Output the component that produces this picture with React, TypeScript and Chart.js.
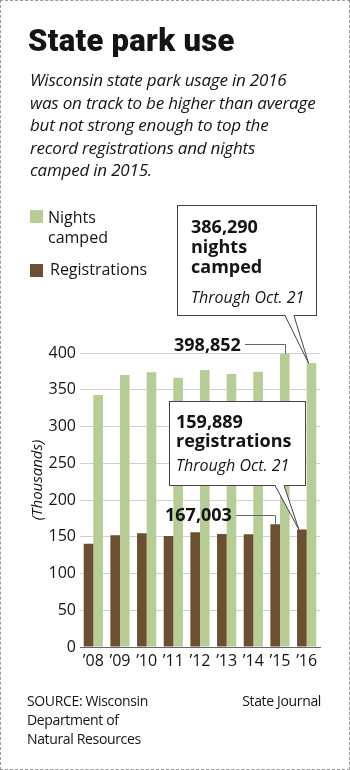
import React, { useEffect, useRef } from "react";
import { Chart, registerables } from "chart.js";
Chart.register(...registerables);

const years = ["\u201908", "\u201909", "\u201910", "\u201911", "\u201912", "\u201913", "\u201914", "\u201915", "\u201916"];
const registrations = [140.5, 152, 154.6, 151, 156, 153.7, 153.5, 167.003, 159.889];
const nightsCamped = [343, 370, 373.7, 366.4, 376.9, 371.4, 374.6, 398.852, 386.29];
const yMin = 0;
const yMax = 400;
const yStep = 50;

const GREEN = "#b6cd95";
const BROWN = "#6b4f30";
const INK = "#141414";

const annotationPlugin = {
  id: "annots",
  afterDatasetsDraw(chart: any) {
    const ctx = chart.ctx;
    const reg = chart.getDatasetMeta(0).data;
    const ngt = chart.getDatasetMeta(1).data;
    ctx.save();
    ctx.strokeStyle = "#666";
    ctx.lineWidth = 1;
    const b15n = ngt[7];
    ctx.beginPath();
    ctx.moveTo(245, 344.5);
    ctx.lineTo(Math.round(b15n.x) + 0.5, 344.5);
    ctx.lineTo(Math.round(b15n.x) + 0.5, b15n.y);
    ctx.stroke();
    const b15r = reg[7];
    ctx.beginPath();
    ctx.moveTo(236, 515.5);
    ctx.lineTo(Math.round(b15r.x) + 0.5, 515.5);
    ctx.lineTo(Math.round(b15r.x) + 0.5, b15r.y);
    ctx.stroke();

    const callout = (l: number, t: number, r: number, b: number, p1: number, p2: number, tip: any) => {
      ctx.fillStyle = "#fff";
      ctx.strokeStyle = "#444";
      ctx.lineWidth = 1;
      ctx.fillRect(l, t, r - l, b - t);
      ctx.strokeRect(l, t, r - l, b - t);
      const tx = tip.x - 3;
      const ty = tip.y;
      ctx.beginPath();
      ctx.moveTo(p1, b - 1);
      ctx.lineTo(tx, ty);
      ctx.lineTo(p2, b - 1);
      ctx.closePath();
      ctx.fill();
      ctx.beginPath();
      ctx.moveTo(p1, b);
      ctx.lineTo(tx, ty);
      ctx.lineTo(p2, b);
      ctx.stroke();
    };
    callout(177.5, 205.5, 316.5, 315.5, 285, 294, ngt[8]);
    callout(169.5, 401.5, 305.5, 485.5, 275, 284, reg[8]);
    ctx.restore();
  },
};

function ChartCanvas() {
  const ref = useRef<HTMLCanvasElement>(null);
  useEffect(() => {
    if (!ref.current) return;
    const chart = new Chart(ref.current, {
      type: "bar",
      data: {
        labels: years,
        datasets: [
          { label: "Registrations", data: registrations, backgroundColor: BROWN },
          { label: "Nights camped", data: nightsCamped, backgroundColor: GREEN },
        ],
      },
      options: {
        responsive: false,
        animation: false,
        devicePixelRatio: 1,
        datasets: { bar: { categoryPercentage: 0.72, barPercentage: 1 } },
        layout: { padding: { left: 0, right: 30, top: 353, bottom: 0 } },
        plugins: { legend: { display: false }, tooltip: { enabled: false } },
        scales: {
          x: {
            grid: { display: false, drawTicks: false },
            border: { display: true, color: "#666", width: 1 },
            ticks: { color: INK, font: { family: "Open Sans", size: 16 }, padding: 5, maxRotation: 0, autoSkip: false },
            afterFit: (s: any) => { s.height = 123; },
          },
          y: {
            min: yMin,
            max: yMax,
            grid: { color: (c: any) => (c.tick && c.tick.value === 0 ? "#666" : "#cfcfcf"), drawTicks: false },
            border: { display: false },
            ticks: { stepSize: yStep, color: INK, font: { family: "Open Sans", size: 16 }, padding: 4 },
            afterFit: (s: any) => { s.width = 80; },
          },
        },
      },
      plugins: [annotationPlugin],
    });
    return () => chart.destroy();
  }, []);
  return <canvas ref={ref} width={350} height={770} style={{ position: "absolute", left: 0, top: 0, width: 350, height: 770 }} />;
}

const T = (props: { x: number; y: number; s: any; children: any }) => (
  <div style={{ position: "absolute", left: props.x, top: props.y, whiteSpace: "nowrap", lineHeight: "20px", color: INK, ...props.s }}>{props.children}</div>
);

const sub = { fontFamily: "'Open Sans', sans-serif", fontStyle: "italic", fontSize: 17, letterSpacing: -0.2 };
const leg = { fontFamily: "'Open Sans', sans-serif", fontSize: 16 };
const bold = { fontFamily: "'Open Sans', sans-serif", fontWeight: 700, fontSize: 18 };
const ital = { fontFamily: "'Open Sans', sans-serif", fontStyle: "italic", fontSize: 16 };
const foot = { fontFamily: "'Open Sans', sans-serif", fontSize: 14, letterSpacing: -0.35 };

export default function App() {
  return (
    <div style={{ position: "absolute", left: 0, top: 0, width: 350, height: 770, background: "#fff", overflow: "hidden" }}>
      <ChartCanvas />
      <div style={{ position: "absolute", left: 0, top: 0, width: 350, height: 770, boxSizing: "border-box", border: "1px dashed #999", pointerEvents: "none" }} />
      <T x={28} y={26} s={{ fontFamily: "Roboto, sans-serif", fontWeight: 900, fontSize: 31, lineHeight: "30px", letterSpacing: 0.3 }}>State park use</T>
      <T x={30} y={70} s={sub}>Wisconsin state park usage in 2016</T>
      <T x={30} y={92.5} s={sub}>was on track to be higher than average</T>
      <T x={30} y={115} s={sub}>but not strong enough to top the</T>
      <T x={30} y={137.5} s={sub}>record registrations and nights</T>
      <T x={30} y={160} s={sub}>camped in 2015.</T>

      <div style={{ position: "absolute", left: 30, top: 210, width: 13, height: 13, background: GREEN }} />
      <T x={48} y={207} s={leg}>Nights</T>
      <T x={48} y={227} s={leg}>camped</T>
      <div style={{ position: "absolute", left: 30, top: 264, width: 13, height: 13, background: BROWN }} />
      <T x={50} y={259} s={leg}>Registrations</T>

      <T x={191} y={216} s={bold}>386,290</T>
      <T x={191} y={236} s={bold}>nights</T>
      <T x={191} y={256} s={bold}>camped</T>
      <T x={191} y={287} s={ital}>Through Oct. 21</T>

      <T x={176} y={411} s={bold}>159,889</T>
      <T x={176} y={430} s={bold}>registrations</T>
      <T x={176} y={455} s={ital}>Through Oct. 21</T>

      <T x={174} y={334} s={bold}>398,852</T>
      <T x={165} y={504} s={bold}>167,003</T>

      <div style={{ position: "absolute", left: 36, top: 480, transform: "translate(-50%, -50%) rotate(-90deg)", whiteSpace: "nowrap", fontFamily: "'Open Sans', sans-serif", fontStyle: "italic", fontSize: 15, color: INK }}>(Thousands)</div>

      <T x={27} y={691} s={foot}>SOURCE: Wisconsin</T>
      <T x={27} y={710} s={foot}>Department of</T>
      <T x={27} y={729} s={foot}>Natural Resources</T>
      <div style={{ position: "absolute", right: 29, top: 691, lineHeight: "20px", whiteSpace: "nowrap", color: INK, ...foot }}>State Journal</div>
    </div>
  );
}
